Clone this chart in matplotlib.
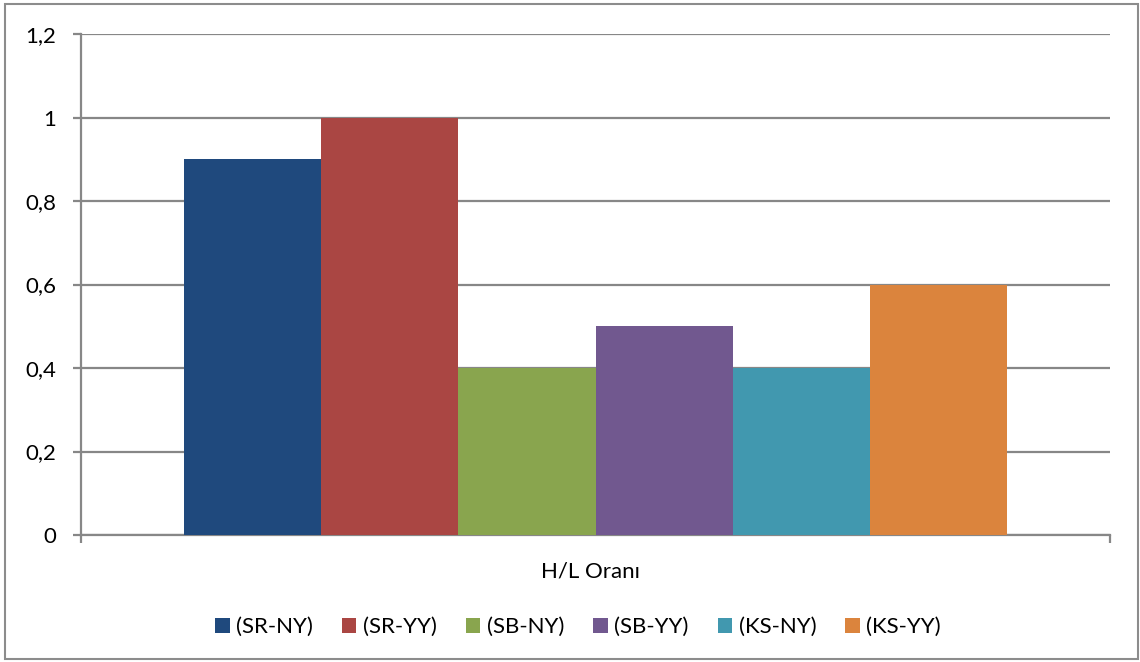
import matplotlib
matplotlib.use("Agg")
import matplotlib.pyplot as plt
from matplotlib.patches import Rectangle, Patch
from matplotlib.ticker import FuncFormatter
import numpy as np

plt.rcParams['font.family'] = ['Lato', 'DejaVu Sans']

category = "H/L Oranı"
series_names = ["(SR-NY)", "(SR-YY)", "(SB-NY)", "(SB-YY)", "(KS-NY)", "(KS-YY)"]
values = [0.9, 1.0, 0.4, 0.5, 0.4, 0.6]
colors = ["#1F497D", "#AA4643", "#89A54E", "#71588F", "#4198AF", "#DB843D"]
y_ticks = [0, 0.2, 0.4, 0.6, 0.8, 1.0, 1.2]

W, H = 1140, 662
fig = plt.figure(figsize=(W / 100, H / 100), dpi=100)
fig.patch.set_facecolor("white")

# outer chart border
fig.patches.append(Rectangle((5 / W, 3 / H), 1133 / W, 655 / H, transform=fig.transFigure,
                             fill=False, edgecolor="#8C8C8C", linewidth=1.5))

ax = fig.add_axes([81 / W, 1 - 535 / H, (1110 - 81) / W, (535 - 34) / H])

n = len(values)
gap = 1.5  # gap width relative to a single bar
bar_w = 1.0 / (n + gap)
x0 = -0.5 + gap / 2 * bar_w
for i, (name, v, c) in enumerate(zip(series_names, values, colors)):
    ax.bar(x0 + (i + 0.5) * bar_w, v, width=bar_w, color=c, label=name, zorder=3, linewidth=0)

ax.set_xlim(-0.5, 0.5)
ax.set_ylim(0, 1.2)
ax.set_yticks(y_ticks)
ax.yaxis.set_major_formatter(FuncFormatter(lambda v, p: ("%g" % round(v, 1)).replace(".", ",")))
ax.grid(axis="y", color="#878787", linewidth=1.6, zorder=0)
ax.set_axisbelow(True)

for s in ["top", "right"]:
    ax.spines[s].set_visible(False)
for s in ["left", "bottom"]:
    ax.spines[s].set_color("#878787")
    ax.spines[s].set_linewidth(1.6)

ax.tick_params(axis="y", direction="out", length=6, width=1.6, color="#878787",
               labelsize=16, labelcolor="black", pad=12)
ax.set_xticks([-0.5, 0.5])
ax.set_xticklabels(["", ""])
ax.tick_params(axis="x", direction="out", length=6, width=1.6, color="#878787")

fig.text(590 / W, 1 - 572 / H, category, ha="center", va="center", fontsize=16)

handles = [Patch(facecolor=c, edgecolor="none") for c in colors]
fig.legend(handles, series_names, loc="center", bbox_to_anchor=(578 / W, 1 - 627 / H),
           ncol=n, frameon=False, fontsize=16, handlelength=0.65, handleheight=0.65,
           handletextpad=0.3, columnspacing=1.3)

fig.savefig("out.png", dpi=100)
